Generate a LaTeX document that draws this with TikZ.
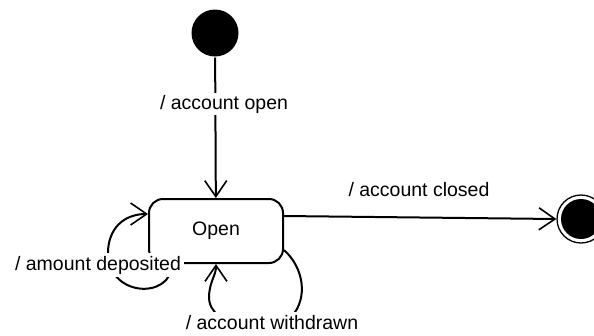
\documentclass[tikz,border=0pt]{standalone}
\usepackage{fontspec}
\setmainfont{Liberation Sans}
\usetikzlibrary{arrows.meta}
\begin{document}
\begin{tikzpicture}[x=1pt,y=-1pt,
  line width=2pt,
  arr/.style={-{Straight Barb[length=16pt,width=22pt,line width=1.6pt]}},
  lbl/.style={font=\fontsize{19.5}{22}\selectfont, inner sep=1.5pt},
  statebox/.style={draw, rounded corners=14pt, minimum width=134pt, minimum height=64pt,
    font=\fontsize{19.5}{22}\selectfont}]
\useasboundingbox (0,0) rectangle (594,335);

% initial and final pseudo-states
\node[circle, fill=black, minimum size=47pt, inner sep=0pt] (init) at (215,33) {};
\node[circle, draw, line width=1.3pt, minimum size=48pt, inner sep=0pt,
  path picture={\fill (path picture bounding box.center) circle (20pt);}] (fin) at (581,219) {};

% the single state
\node[statebox] (open) at (216,231) {Open};
\coordinate (loopL) at ([xshift=-44pt]open.south);
\coordinate (loopLin) at ([yshift=17pt]open.west);
\coordinate (loopR) at ([yshift=14pt]open.south east);
\coordinate (exitR) at ([yshift=15pt]open.east);

% transitions
\draw[arr] (init) -- (open);
\draw[arr] (exitR) -- (fin.west);
\draw[arr] (loopL) .. controls (172,300) and (106,298) .. (108,250)
  .. controls (110,224) and (128,214) .. (loopLin);
\draw[arr] (loopR) .. controls (304,268) and (308,298) .. (292,316)
  .. controls (272,332) and (208,330) .. (209,296)
  .. controls (210,280) and (216,276) .. (open.south);

% transition labels
\node[lbl, fill=white] (lopen) at (224,104) {/ account open};
\node[lbl] (lclose) at (419,190) {/ account closed};
\node[lbl, fill=white, inner sep=3pt] (ldep) at (98,265) {/ amount deposited};
\node[lbl, fill=white, inner sep=4pt] (lwd) at (272,323) {/ account withdrawn};
\end{tikzpicture}
\end{document}
